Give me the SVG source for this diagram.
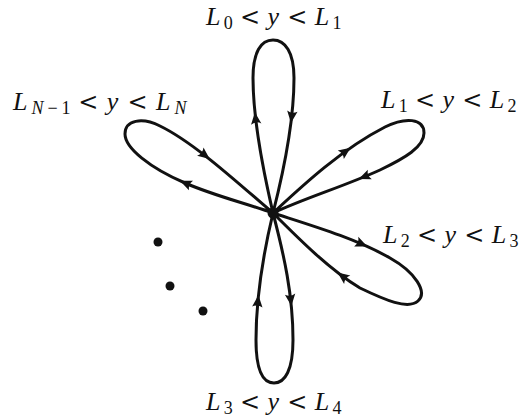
<svg xmlns="http://www.w3.org/2000/svg" width="519" height="417" viewBox="0 0 519 417">
<style>
.loop{fill:none;stroke:#111;stroke-width:3;stroke-linejoin:round;stroke-linecap:round}
.ah{fill:#111;stroke:none}
.t{font-family:"Liberation Serif","Times New Roman",serif;font-size:26px;fill:#111}
.i{font-style:italic}
.s{font-size:18px}
.r{font-family:"DejaVu Serif",serif;font-size:24px}
</style>
<defs>
<path id="arr" class="ah" d="M5.5,0 L-6.5,-5.2 Q-3.2,0 -6.5,5.2 Z"/>
</defs>
<rect width="519" height="417" fill="#fff"/>
<g id="connectors">
<path id="petal-top" class="loop" d="M273,213 C263,170 253,120 253,78 C253,52 261,40 273,40 C285,40 294,52 294,78 C294,120 284,170 273,213"/>
<path id="petal-bottom" class="loop" d="M273,213 C263,255 256,295 256,340 C256,370 263,383 274,383 C285,383 293,370 293,340 C293,295 284,255 273,213"/>
<path id="petal-upper-left" class="loop" d="M273,213 C240,185 195,143 160,126 C142,117 125,120 125,134 C125,148 150,168 185,183 C215,196 245,203 273,213"/>
<path id="petal-upper-right" class="loop" d="M273,213 C300,188 340,150 385,127 C405,117 424,118 424,133 C424,147 405,158 380,170 C345,186 305,198 273,213"/>
<path id="petal-lower-right" class="loop" d="M273,213 C310,225 355,238 390,258 C415,272 428,292 418,301 C408,310 385,300 360,288 C330,270 300,240 273,213"/>
<use href="#arr" transform="translate(255.5,117.6) rotate(-96.4)"/>
<use href="#arr" transform="translate(291.6,117.6) rotate(96.5)"/>
<use href="#arr" transform="translate(257.9,300.6) rotate(-84.8)"/>
<use href="#arr" transform="translate(290.8,300.6) rotate(83.6)"/>
<use href="#arr" transform="translate(205.4,155.7) rotate(38.3)"/>
<use href="#arr" transform="translate(185,183) rotate(-156.8)"/>
<use href="#arr" transform="translate(346.1,151) rotate(-35.6)"/>
<use href="#arr" transform="translate(363.8,177) rotate(157.5)"/>
<use href="#arr" transform="translate(362.2,244.2) rotate(23.5)"/>
<use href="#arr" transform="translate(342,275.9) rotate(-143.4)"/>
</g>
<g id="center"><circle cx="273" cy="213" r="5.5" fill="#111"/></g>
<g id="dots">
<circle cx="158" cy="242" r="4.5" fill="#111"/>
<circle cx="170" cy="286" r="4.5" fill="#111"/>
<circle cx="203" cy="311" r="4.5" fill="#111"/>
</g>
<g id="label-top">
<text class="t"><tspan class="i" x="206" y="25">L</tspan><tspan class="s" x="223.7" y="29">0</tspan><tspan class="r" x="240" y="25">&lt;</tspan><tspan class="i" x="267.4" y="25">y</tspan><tspan class="r" x="287.3" y="25">&lt;</tspan><tspan class="i" x="314.7" y="25">L</tspan><tspan class="s" x="332.4" y="29">1</tspan></text>
</g>
<g id="label-upper-right">
<text class="t"><tspan class="i" x="381" y="108">L</tspan><tspan class="s" x="398.7" y="112">1</tspan><tspan class="r" x="415" y="108">&lt;</tspan><tspan class="i" x="442.4" y="108">y</tspan><tspan class="r" x="462.3" y="108">&lt;</tspan><tspan class="i" x="489.7" y="108">L</tspan><tspan class="s" x="507.4" y="112">2</tspan></text>
</g>
<g id="label-lower-right">
<text class="t"><tspan class="i" x="383" y="243">L</tspan><tspan class="s" x="400.7" y="247">2</tspan><tspan class="r" x="417" y="243">&lt;</tspan><tspan class="i" x="444.4" y="243">y</tspan><tspan class="r" x="464.3" y="243">&lt;</tspan><tspan class="i" x="491.7" y="243">L</tspan><tspan class="s" x="509.4" y="247">3</tspan></text>
</g>
<g id="label-bottom">
<text class="t"><tspan class="i" x="206" y="410">L</tspan><tspan class="s" x="223.7" y="414">3</tspan><tspan class="r" x="240" y="410">&lt;</tspan><tspan class="i" x="267.4" y="410">y</tspan><tspan class="r" x="287.3" y="410">&lt;</tspan><tspan class="i" x="314.7" y="410">L</tspan><tspan class="s" x="332.4" y="414">4</tspan></text>
</g>
<g id="label-upper-left">
<text class="t"><tspan class="i" x="13" y="110">L</tspan><tspan class="s i" x="31.4" y="114">N</tspan><tspan class="s" x="47.5" y="114">−</tspan><tspan class="s" x="61.4" y="114">1</tspan><tspan class="r" x="78.3" y="110">&lt;</tspan><tspan class="i" x="106.8" y="110">y</tspan><tspan class="r" x="127.5" y="110">&lt;</tspan><tspan class="i" x="156" y="110">L</tspan><tspan class="s i" x="174.4" y="114">N</tspan></text>
</g>
</svg>
